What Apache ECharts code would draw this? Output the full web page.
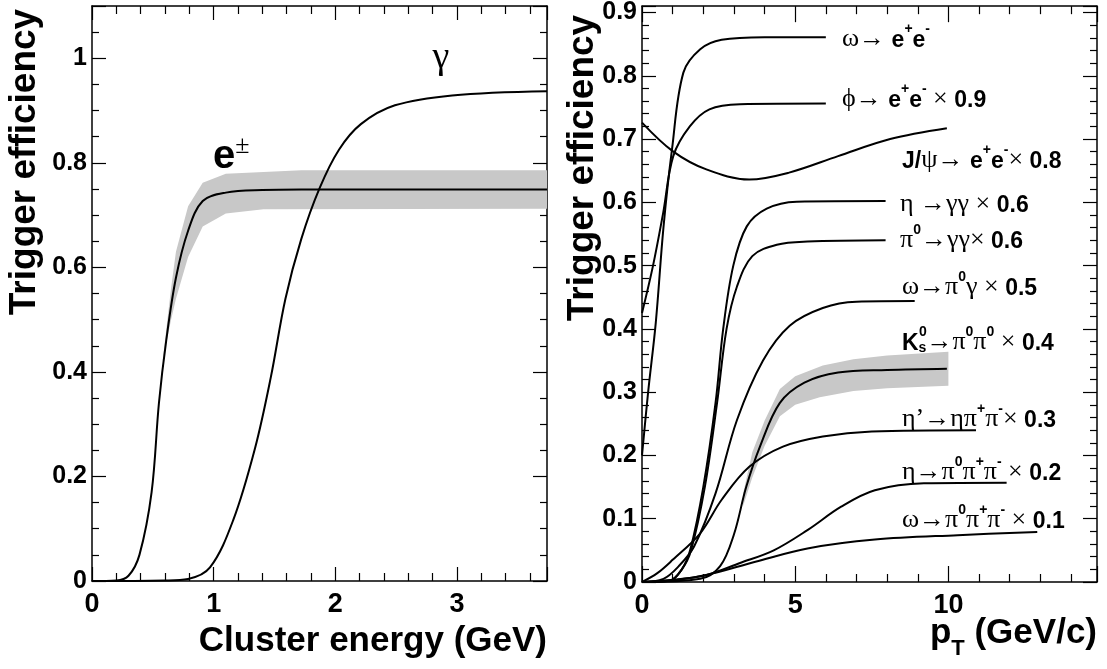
<!DOCTYPE html>
<html lang="en">
<head>
  <meta charset="UTF-8">
  <title>Trigger efficiency</title>
  <script src="https://cdn.jsdelivr.net/npm/echarts@6/dist/echarts.min.js"></script>
  <style>
    body { margin: 0; background: #fff; }
    #main { width: 1107px; height: 669px; }
  </style>
</head>
<body>
  <div id="main"></div>
  <script>
    // left panel: cluster energy (GeV) vs efficiency
    const eCurve = [[0,0],[0.2,0.001],[0.3,0.01],[0.39,0.05],[0.49,0.17],[0.55,0.34],[0.61,0.46],[0.69,0.58],[0.79,0.67],[0.91,0.727],[1.1,0.743],[1.4,0.748],[1.72,0.749],[3.74,0.749]]
    const eBandUp = [[0.58,0.42],[0.65,0.56],[0.69,0.63],[0.79,0.717],[0.91,0.762],[1.1,0.779],[1.72,0.786],[3.74,0.786]]
    const eBandLo = [[0.58,0.42],[0.65,0.5],[0.69,0.54],[0.79,0.62],[0.91,0.678],[1.1,0.703],[1.41,0.711],[3.74,0.712]]
    const gCurve = [[0,0],[0.6,0.001],[0.79,0.004],[0.97,0.026],[1.16,0.116],[1.34,0.254],[1.47,0.39],[1.59,0.54],[1.72,0.654],[1.87,0.751],[2.03,0.825],[2.21,0.874],[2.49,0.91],[2.96,0.929],[3.74,0.937]]

    // right panel: pT (GeV/c) vs efficiency x branching scale
    const omegaEE = [[0,0.2],[0.2,0.3],[0.45,0.41],[0.7,0.56],[0.98,0.684],[1.35,0.805],[1.9,0.842],[2.6,0.857],[4,0.861],[6,0.861]]
    const phiEE = [[0,0.425],[0.36,0.5],[0.69,0.583],[1.02,0.673],[1.56,0.72],[2.2,0.747],[3.2,0.755],[6,0.756]]
    const jpsiEE = [[0,0.726],[1,0.681],[2.1,0.652],[3.5,0.636],[4.8,0.647],[6.4,0.673],[8.1,0.7],[9.95,0.717]]
    const etaGG = [[0,0],[0.9,0.002],[1.3,0.02],[1.57,0.05],[2,0.15],[2.4,0.283],[2.65,0.4],[2.98,0.5],[3.42,0.562],[4.07,0.59],[5.05,0.601],[7.95,0.602]]
    const pi0GG = [[0,0],[0.9,0.002],[1.3,0.02],[1.6,0.05],[2.05,0.15],[2.45,0.283],[2.76,0.4],[3.1,0.467],[3.6,0.515],[4.4,0.533],[5.4,0.538],[7.95,0.54]]
    const omegaPi0G = [[0,0],[0.7,0.005],[1.2,0.025],[1.7,0.056],[2.4,0.14],[3.1,0.256],[3.95,0.35],[4.82,0.405],[5.9,0.433],[7,0.443],[8.9,0.444]]
    const k0s = [[0,0],[1.9,0.005],[2.55,0.025],[3,0.075],[3.4,0.15],[3.85,0.214],[4.5,0.283],[5.3,0.315],[6.4,0.331],[8,0.335],[9.95,0.337]]
    const k0sBandUp = [[3.3,0.14],[3.6,0.205],[4,0.255],[4.5,0.305],[5,0.325],[5.9,0.342],[6.9,0.352],[8,0.358],[10,0.364]]
    const k0sBandLo = [[3.3,0.12],[3.6,0.165],[4,0.215],[4.5,0.262],[5,0.28],[5.8,0.292],[6.9,0.302],[8,0.306],[10,0.31]]
    const etapEtaPiPi = [[0,0],[0.5,0.014],[1,0.035],[1.9,0.077],[2.6,0.13],[3.5,0.182],[4.6,0.214],[5.9,0.23],[7.5,0.238],[10.9,0.24]]
    const etaPi0PiPi = [[0,0],[1,0.003],[2.1,0.011],[3.2,0.03],[4.3,0.05],[5.4,0.082],[6.5,0.119],[7.6,0.145],[9.2,0.156],[11.9,0.157]]
    const omegaPi0PiPi = [[0,0],[1,0.003],[2.1,0.011],[3.7,0.032],[5.4,0.053],[7.6,0.067],[10.3,0.074],[12.9,0.079]]

    const leftX = { min: 0, max: 3.74, interval: 1, minor: 5 }
    const leftY = { min: 0, max: 1.1, interval: 0.2, minor: 4 }
    const rightX = { min: 0, max: 14.85, interval: 5, minor: 5 }
    const rightY = { min: 0, max: 0.91, interval: 0.1, minor: 5 }

    const sans = 'Liberation Sans, Arial, sans-serif'
    const serif = 'Liberation Serif, DejaVu Serif, serif'

    function axis(cfg, grid, pos, labels, major, minor, fs, margin) {
      return {
        type: 'value', gridIndex: grid, position: pos,
        min: cfg.min, max: cfg.max, interval: cfg.interval,
        axisLine: { show: true, onZero: false, lineStyle: { color: '#000', width: 1.5 } },
        axisTick: { show: true, inside: true, length: major, lineStyle: { color: '#000', width: 1.2 } },
        minorTick: { show: true, splitNumber: cfg.minor, length: minor, lineStyle: { color: '#000', width: 1.2 } },
        splitLine: { show: false },
        axisLabel: {
          show: labels, showMaxLabel: false, margin: margin,
          color: '#000', fontFamily: sans, fontWeight: 'bold', fontSize: fs
        }
      }
    }

    function line(data, xi, yi) {
      return {
        type: 'line', xAxisIndex: xi, yAxisIndex: yi, data: data,
        smooth: 0.35, showSymbol: false, z: 5,
        lineStyle: { color: '#000', width: 2 }
      }
    }

    function band(up, lo, xi, yi) {
      return {
        type: 'custom', xAxisIndex: xi, yAxisIndex: yi, z: 1, data: [0],
        renderItem: function (params, api) {
          const pts = up.map(p => api.coord(p)).concat(lo.slice().reverse().map(p => api.coord(p)))
          return { type: 'polygon', shape: { points: pts }, style: { fill: '#c8c8c8' } }
        }
      }
    }

    const rich = {
      g: { fontFamily: serif, fontSize: 26, lineHeight: 30, verticalAlign: 'bottom' },
      b: { fontFamily: sans, fontWeight: 'bold', fontSize: 23, lineHeight: 30, verticalAlign: 'bottom' },
      sup: { fontFamily: sans, fontWeight: 'bold', fontSize: 14, lineHeight: 30, verticalAlign: 'top' },
      sub: { fontFamily: sans, fontWeight: 'bold', fontSize: 14, lineHeight: 18, verticalAlign: 'bottom' }
    }

    function label(x, y, text) {
      return { type: 'text', x: x, y: y, z: 10, style: { text: text, rich: rich, fill: '#000', verticalAlign: 'middle' } }
    }

    const chart = echarts.init(document.getElementById('main'))
    chart.setOption({
      animation: false,
      backgroundColor: '#fff',
      grid: [
        { left: 92, right: 560, top: 6, bottom: 88 },
        { left: 642, right: 10, top: 6, bottom: 87 }
      ],
      xAxis: [
        axis(leftX, 0, 'bottom', true, 14, 8, 27, 10),
        axis(leftX, 0, 'top', false, 14, 8, 27, 10),
        axis(rightX, 1, 'bottom', true, 16, 8, 27, 10),
        axis(rightX, 1, 'top', false, 16, 8, 27, 10)
      ],
      yAxis: [
        axis(leftY, 0, 'left', true, 14, 7, 25, 5),
        axis(leftY, 0, 'right', false, 14, 7, 25, 5),
        axis(rightY, 1, 'left', true, 14, 7, 25, 5),
        axis(rightY, 1, 'right', false, 14, 7, 25, 5)
      ],
      series: [
        band(eBandUp, eBandLo, 0, 0),
        line(eCurve, 0, 0),
        line(gCurve, 0, 0),
        band(k0sBandUp, k0sBandLo, 2, 2),
        line(omegaEE, 2, 2),
        line(phiEE, 2, 2),
        line(jpsiEE, 2, 2),
        line(etaGG, 2, 2),
        line(pi0GG, 2, 2),
        line(omegaPi0G, 2, 2),
        line(k0s, 2, 2),
        line(etapEtaPiPi, 2, 2),
        line(etaPi0PiPi, 2, 2),
        line(omegaPi0PiPi, 2, 2)
      ],
      graphic: [
        { type: 'text', x: 25, y: 162, rotation: Math.PI / 2, style: { text: 'Trigger efficiency', fontFamily: sans, fontWeight: 'bold', fontSize: 37, fill: '#000', align: 'center', verticalAlign: 'middle' } },
        { type: 'text', x: 583, y: 168, rotation: Math.PI / 2, style: { text: 'Trigger efficiency', fontFamily: sans, fontWeight: 'bold', fontSize: 37, fill: '#000', align: 'center', verticalAlign: 'middle' } },
        { type: 'text', x: 547, y: 641, style: { text: 'Cluster energy (GeV)', fontFamily: sans, fontWeight: 'bold', fontSize: 35, fill: '#000', align: 'right', verticalAlign: 'middle' } },
        { type: 'text', x: 1097, y: 638, style: {
          text: '{p|p}{t|T}{p| (GeV/c)}', align: 'right', verticalAlign: 'middle',
          rich: {
            p: { fontFamily: sans, fontWeight: 'bold', fontSize: 35, lineHeight: 44, verticalAlign: 'top' },
            t: { fontFamily: sans, fontWeight: 'bold', fontSize: 22, lineHeight: 44, verticalAlign: 'bottom' }
          } } },
        { type: 'text', x: 441, y: 58, style: { text: 'γ', fontFamily: serif, fontSize: 38, fill: '#000', align: 'center', verticalAlign: 'middle' } },
        { type: 'text', x: 213, y: 155, style: {
          text: '{e|e}{pm|±}', verticalAlign: 'middle',
          rich: {
            e: { fontFamily: sans, fontWeight: 'bold', fontSize: 40, lineHeight: 44, verticalAlign: 'bottom' },
            pm: { fontFamily: serif, fontSize: 26, lineHeight: 44, verticalAlign: 'top' }
          } } },
        label(842, 37, '{g|ω→ }{b|e}{sup|+}{b|e}{sup|-}'),
        label(842, 97, '{g|ϕ→ }{b|e}{sup|+}{b|e}{sup|-}{g| × }{b|0.9}'),
        label(902, 158, '{b|J/}{g|ψ→ }{b|e}{sup|+}{b|e}{sup|-}{g|× }{b|0.8}'),
        label(900, 202, '{g|η →γγ × }{b|0.6}'),
        label(900, 238, '{g|π}{sup|0}{g|→γγ× }{b|0.6}'),
        label(902, 285, '{g|ω→π}{sup|0}{g|γ × }{b|0.5}'),
        label(902, 340, '{b|K}{sub|s}{g|→π}{sup|0}{g|π}{sup|0}{g| × }{b|0.4}'),
        { type: 'text', x: 919, y: 332, z: 10, style: { text: '0', fontFamily: sans, fontWeight: 'bold', fontSize: 14, fill: '#000', verticalAlign: 'middle' } },
        label(902, 417, '{g|η’→ηπ}{sup|+}{g|π}{sup|-}{g|× }{b|0.3}'),
        label(902, 470, '{g|η→π}{sup|0}{g|π}{sup|+}{g|π}{sup|-}{g| × }{b|0.2}'),
        label(902, 518, '{g|ω→π}{sup|0}{g|π}{sup|+}{g|π}{sup|-}{g| × }{b|0.1}')
      ]
    })
  </script>
</body>
</html>
